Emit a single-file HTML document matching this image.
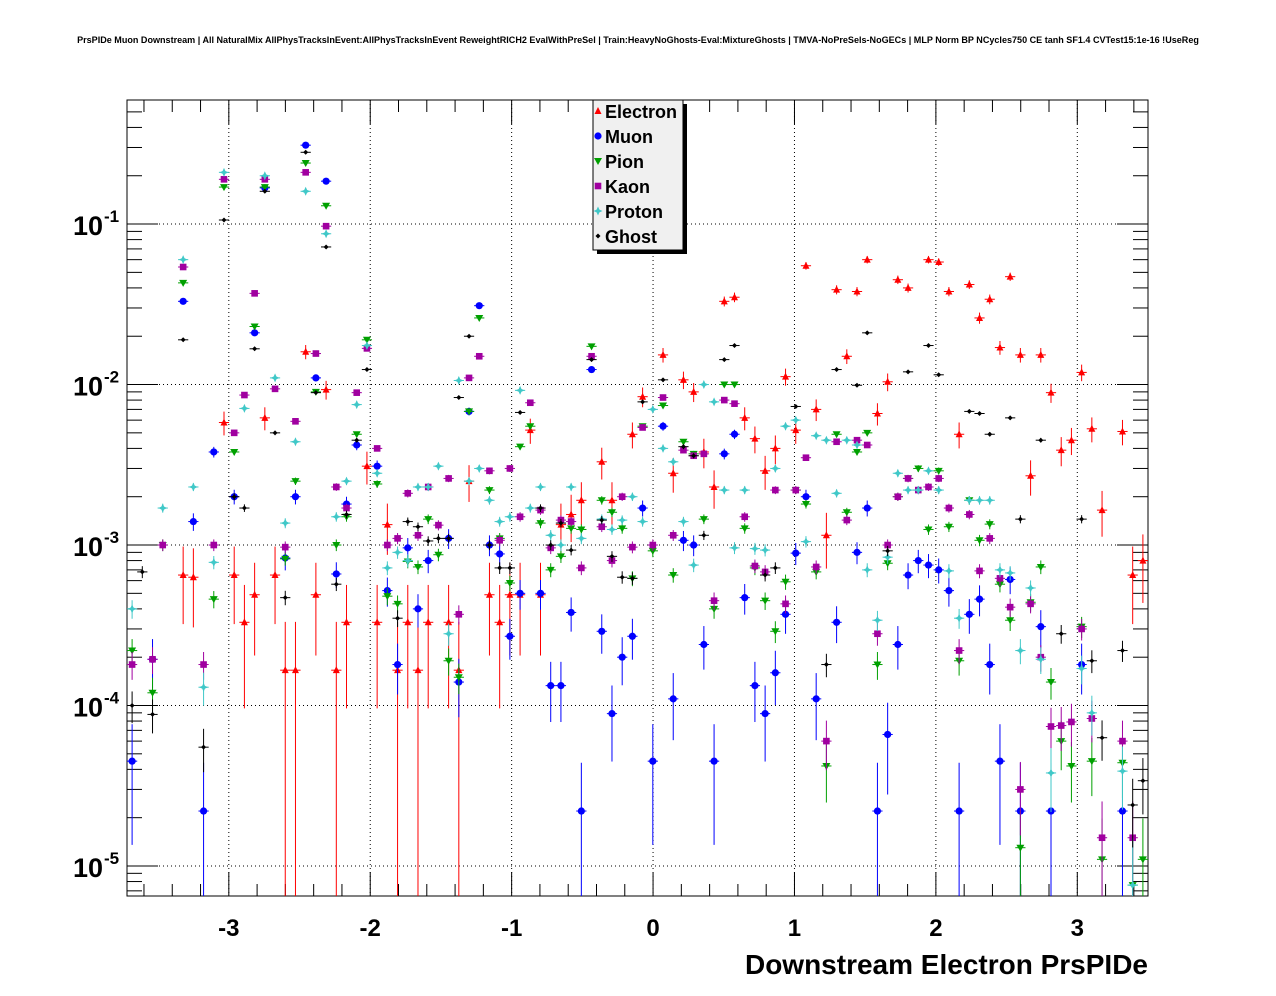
<!DOCTYPE html>
<html><head><meta charset="utf-8">
<style>
html,body{margin:0;padding:0;background:#fff;}
svg{display:block;font-family:"Liberation Sans",sans-serif;}
</style></head>
<body>
<svg id="chart" width="1276" height="996" viewBox="0 0 1276 996" xmlns="http://www.w3.org/2000/svg">
<rect x="0" y="0" width="1276" height="996" fill="#fff"/>
<text x="638" y="43" font-size="9.05" font-weight="bold" text-anchor="middle">PrsPIDe Muon Downstream | All NaturalMix AllPhysTracksInEvent:AllPhysTracksInEvent ReweightRICH2 EvalWithPreSel | Train:HeavyNoGhosts-Eval:MixtureGhosts | TMVA-NoPreSels-NoGECs | MLP Norm BP NCycles750 CE tanh SF1.4 CVTest15:1e-16 !UseReg</text>
<rect x="127" y="100" width="1021" height="796" fill="#fff" stroke="#000" stroke-width="1"/>
<g id="grid"></g><g id="ticks"></g><g id="marks"></g>
<text x="1148" y="974" font-size="28" font-weight="bold" text-anchor="end">Downstream Electron PrsPIDe</text>
<g id="legend"></g>
</svg>
<script>
// ---- data ----
const xMin = -3.72, xMax = 3.50, nBins = 100;
const yLogMin = -5.187, yLogMax = -0.227;
const xTickLabels = [-3, -2, -1, 0, 1, 2, 3];
const yTickExps = [-1, -2, -3, -4, -5];
const seriesNames = ["Electron", "Muon", "Pion", "Kaon", "Proton", "Ghost"];

const electronBins = [5,6,9,10,11,12,13,14,15,16,17,18,19,20,21,23,24,25,26,27,28,29,31,32,33,35,36,37,38,39,40,42,43,44,46,47,49,50,52,53,54,55,56,57,58,59,60,61,62,63,64,65,66,67,68,69,70,71,72,73,74,75,76,78,79,80,81,82,83,84,85,86,87,88,89,90,91,92,93,94,95,97,98,99];
const electronVals = [6.5e-4,6.3e-4,5.8e-3,6.5e-4,3.3e-4,4.9e-4,6.2e-3,6.5e-4,1.66e-4,1.66e-4,1.6e-2,4.9e-4,9.3e-3,1.66e-4,3.3e-4,3.1e-3,3.3e-4,1.34e-3,1.66e-4,3.3e-4,1.66e-4,3.3e-4,3.3e-4,1.66e-4,2.5e-3,4.9e-4,3.3e-4,4.9e-4,4.9e-4,5.2e-3,4.9e-4,1.34e-3,1.55e-3,1.9e-3,3.3e-3,1.9e-3,4.9e-3,8.4e-3,1.53e-2,2.8e-3,1.07e-2,9e-3,3.8e-3,2.3e-3,3.3e-2,3.5e-2,6.2e-3,4.6e-3,2.9e-3,4e-3,1.12e-2,5.2e-3,5.5e-2,7e-3,1.15e-3,3.9e-2,1.5e-2,3.8e-2,6e-2,6.6e-3,1.04e-2,4.5e-2,4e-2,6e-2,5.8e-2,3.8e-2,4.9e-3,4.2e-2,2.6e-2,3.4e-2,1.7e-2,4.7e-2,1.53e-2,2.7e-3,1.53e-2,8.9e-3,3.9e-3,4.5e-3,1.19e-2,5.3e-3,1.65e-3,5.1e-3,6.5e-4,8e-4];

const muonBins = [0,2,5,6,7,8,10,12,13,15,16,17,18,19,20,21,22,24,25,26,27,28,29,31,32,33,34,35,36,37,38,40,41,42,43,44,45,46,47,48,49,50,51,52,53,54,55,56,57,58,59,60,61,62,63,64,65,66,67,69,71,72,73,74,75,76,77,78,79,80,81,82,83,84,85,86,87,89,90,93,97];
const muonVals = [4.5e-5,1.94e-4,3.3e-2,1.4e-3,2.2e-5,3.8e-3,2e-3,2.1e-2,0.168,8.3e-4,2e-3,0.31,1.1e-2,0.185,6.6e-4,1.8e-3,4.2e-3,3.1e-3,5.2e-4,1.8e-4,9.6e-4,4e-4,8e-4,1.1e-3,1.4e-4,6.8e-3,3.1e-2,1e-3,8.8e-4,2.7e-4,5e-4,5e-4,1.33e-4,1.33e-4,3.8e-4,2.2e-5,1.24e-2,2.9e-4,8.9e-5,2e-4,2.7e-4,1.7e-3,4.5e-5,5.5e-3,1.1e-4,1.07e-3,1e-3,2.4e-4,4.5e-5,3.7e-3,4.9e-3,4.7e-4,1.33e-4,8.9e-5,1.6e-4,3.7e-4,8.9e-4,2e-3,1.1e-4,3.3e-4,9e-4,1.7e-3,2.2e-5,6.6e-5,2.4e-4,6.5e-4,8e-4,7.5e-4,7e-4,5.2e-4,2.2e-5,3.7e-4,4.6e-4,1.8e-4,4.5e-5,6.1e-4,2.2e-5,3.1e-4,2.2e-5,1.8e-4,2.2e-5];

const pionBins = [0,2,3,5,8,9,10,12,13,15,16,17,18,19,20,21,22,23,24,25,26,27,28,29,30,31,32,33,34,35,36,37,38,39,40,41,42,43,44,45,46,47,48,49,50,51,52,53,54,55,56,57,58,59,60,61,62,63,64,65,66,67,68,69,70,71,72,73,74,75,76,77,78,79,80,81,82,83,84,85,86,87,88,89,90,91,92,93,94,95,97,98,99];
const pionVals = [2.2e-4,1.2e-4,1e-3,4.3e-2,4.6e-4,0.17,3.8e-3,2.3e-2,0.17,8.2e-4,2.5e-3,0.24,9e-3,0.13,1e-3,1.5e-3,4.9e-3,1.9e-2,2.4e-3,4.8e-4,4.3e-4,7.9e-4,7.3e-4,1.45e-3,8.7e-4,1.9e-4,1.5e-4,6.8e-3,2.6e-2,2.2e-3,1.1e-3,5.8e-4,4.1e-3,5.5e-3,1.37e-3,7e-4,8.5e-4,1.27e-3,1.25e-3,1.73e-2,1.9e-3,1.6e-3,1.27e-3,6.2e-4,5.5e-3,9.2e-4,7.4e-3,6.5e-4,4.4e-3,3.7e-3,1.45e-3,4e-4,1e-2,1e-2,1.27e-3,7.2e-4,4.5e-4,2.9e-4,5.9e-4,2.2e-3,1.8e-3,6.8e-4,4.2e-5,4.9e-3,1.6e-3,3.8e-3,5e-3,1.8e-4,7.7e-4,2e-3,2.6e-3,3e-3,1.25e-3,2.9e-3,1.3e-3,1.9e-4,1.9e-3,1.07e-3,1.35e-3,5.7e-4,3.4e-4,1.3e-5,4.4e-4,7.3e-4,1.4e-4,6e-5,4.2e-5,3.1e-4,4.5e-5,1.1e-5,4.4e-5,7.6e-6,1.1e-5];

const kaonBins = [0,2,3,5,7,8,9,10,11,12,13,14,15,16,17,18,19,20,21,22,23,24,25,26,27,28,29,30,31,32,33,34,35,36,37,38,39,40,41,42,43,44,45,46,47,48,49,50,51,52,53,54,55,56,57,58,59,60,61,62,63,64,65,66,67,68,69,70,71,72,73,74,75,76,77,78,79,80,81,82,83,84,85,86,87,88,89,90,91,92,93,94,95,97,98];
const kaonVals = [1.8e-4,1.94e-4,1e-3,5.4e-2,1.8e-4,1e-3,0.19,5e-3,8.6e-3,3.7e-2,0.19,9.4e-3,9.7e-4,5.9e-3,0.21,1.56e-2,9.7e-2,2.3e-3,1.7e-3,8.9e-3,1.68e-2,4e-3,1e-3,1.1e-3,2.1e-3,1.15e-3,2.3e-3,1.33e-3,2.6e-3,3.7e-4,1.1e-2,1.5e-2,2.9e-3,1.07e-3,3e-3,1.5e-3,7.7e-3,1.65e-3,9.6e-4,1.43e-3,1.4e-3,7.2e-4,1.5e-2,1.3e-3,8e-4,2e-3,9.7e-4,5.4e-3,1e-3,8.3e-3,1.15e-3,3.9e-3,3.6e-3,3.7e-3,4.5e-4,8e-3,7.6e-3,1.5e-3,7.4e-4,6.8e-4,2.2e-3,4.3e-4,2.2e-3,3.5e-3,7.3e-4,6e-5,4.4e-3,1.43e-3,4.5e-3,4.2e-3,2.8e-4,1e-3,2e-3,2.6e-3,2.2e-3,2.3e-3,2.6e-3,1.7e-3,2.2e-4,1.55e-3,6.9e-4,1.1e-3,6.2e-4,4.1e-4,3e-5,4.3e-4,2e-4,7.4e-5,7.5e-5,7.9e-5,3e-4,8.3e-5,1.5e-5,6e-5,1.5e-5];

const protonBins = [0,3,5,6,7,8,9,11,13,14,15,16,17,19,20,21,22,23,24,25,26,27,28,29,30,31,32,33,34,35,36,37,38,39,40,41,42,43,44,46,47,48,49,50,51,52,53,54,55,56,57,58,59,60,61,62,63,64,65,66,67,68,69,70,71,72,73,74,75,76,77,78,79,80,81,82,83,84,85,86,87,88,89,90,93,94,97,98];
const protonVals = [4e-4,1.7e-3,6e-2,2.3e-3,1.3e-4,7.8e-4,0.21,7.1e-3,0.2,1.1e-2,1.37e-3,4.4e-3,0.16,8.7e-2,1.5e-3,2.5e-3,7.5e-3,1.75e-2,2.8e-3,7.2e-4,9e-4,8e-4,2.3e-3,2.3e-3,3.1e-3,2.8e-4,1.06e-2,2.5e-3,3e-3,1.9e-3,1.4e-3,1.5e-3,9.2e-3,1.7e-3,2.3e-3,1.15e-3,1e-3,2.3e-3,1.1e-3,1.45e-3,1.25e-3,1.43e-3,2e-3,1.4e-3,7e-3,4e-3,3.3e-3,1.4e-3,7.5e-4,1e-2,7.8e-3,2.2e-3,9.6e-4,2.2e-3,9.5e-4,9.3e-4,3e-3,5.5e-3,6e-3,1.05e-3,4.8e-3,4.5e-3,2.1e-3,4.5e-3,4.2e-3,7e-4,3.4e-4,8.4e-4,2.8e-3,2.2e-3,2.2e-3,2.9e-3,2.2e-3,6.9e-4,3.5e-4,1.9e-3,1.9e-3,1.9e-3,7e-4,6.7e-4,2.2e-4,5.4e-4,1.94e-4,3.8e-5,1.7e-4,9e-5,3.9e-5,7.6e-6];

const ghostBins = [0,1,2,5,7,9,10,11,12,13,14,15,17,18,19,20,21,22,23,26,27,28,29,30,31,32,33,35,36,37,38,40,41,42,43,45,46,47,48,49,50,52,54,55,56,58,59,62,63,65,68,69,71,72,74,76,78,79,82,83,84,86,87,89,91,93,94,95,97,98,99];
const ghostVals = [1e-4,6.8e-4,8.8e-5,1.9e-2,5.5e-5,0.106,2e-3,1.7e-3,1.67e-2,0.16,5e-3,4.7e-4,0.28,8.9e-3,7.2e-2,5.7e-4,1.55e-3,4.5e-3,1.24e-2,3.5e-4,1.4e-3,1.3e-3,1.06e-3,1.1e-3,1.1e-3,8.3e-3,2e-2,1e-3,7.2e-4,7.2e-4,6.7e-3,1.7e-3,1e-3,1.37e-3,9.3e-4,1.43e-2,1.43e-3,8.5e-4,6.3e-4,6.2e-4,7.8e-3,1.07e-2,4.1e-3,3.6e-3,1.15e-3,1.43e-2,1.75e-2,6.5e-4,7.2e-4,7.3e-3,1.8e-4,1.24e-2,9.9e-3,2.1e-2,9.2e-4,1.2e-2,1.75e-2,1.15e-2,6.8e-3,6.6e-3,4.9e-3,6.2e-3,1.45e-3,4.5e-3,2.8e-4,1.45e-3,1.9e-4,6.3e-5,2.2e-4,2.4e-5,3.4e-5];

// ---- drawing ----
const NS = "http://www.w3.org/2000/svg";
const L = 127, R = 1148, T = 100, B = 896;
const xs = v => L + (v - xMin) / (xMax - xMin) * (R - L);
const ys = v => T + (yLogMax - Math.log10(v)) / (yLogMax - yLogMin) * (B - T);
const binW = (xMax - xMin) / nBins;
const binCenter = i => xMin + binW * (i + 0.5);
function mk(tag, attrs, parent) {
  const e = document.createElementNS(NS, tag);
  for (const k in attrs) e.setAttribute(k, attrs[k]);
  parent.appendChild(e); return e;
}
const grid = document.getElementById('grid');
const ticks = document.getElementById('ticks');
const marks = document.getElementById('marks');
const legend = document.getElementById('legend');

// grid + x ticks
xTickLabels.forEach(v => {
  const x = xs(v);
  const g = mk('line', {x1:x, x2:x, y1:T, y2:B, stroke:'#000', 'stroke-width':1, 'stroke-dasharray':'1,3'}, grid);
  
  
  mk('line', {x1:x, x2:x, y1:B, y2:B-24, stroke:'#000'}, ticks);
  mk('line', {x1:x, x2:x, y1:T, y2:T+24, stroke:'#000'}, ticks);
  const t = mk('text', {x:x, y:936, 'font-size':24, 'font-weight':'bold', 'text-anchor':'middle'}, ticks);
  t.textContent = String(v);
  
  
});
for (let k = -18; k <= 17; k++) {
  const r = k * 0.2;
  if (r < xMin || r > xMax) continue;
  if (Math.abs(r - Math.round(r)) < 1e-6) continue;
  const x = xs(r);
  mk('line', {x1:x, x2:x, y1:B, y2:B-12, stroke:'#000'}, ticks);
  mk('line', {x1:x, x2:x, y1:T, y2:T+12, stroke:'#000'}, ticks);
}
// y grid + ticks
yTickExps.forEach(e => {
  const y = ys(Math.pow(10, e));
  const g = mk('line', {x1:L, x2:R, y1:y, y2:y, stroke:'#000', 'stroke-width':1, 'stroke-dasharray':'1,3'}, grid);
  
  
  mk('line', {x1:L, x2:L+31, y1:y, y2:y, stroke:'#000'}, ticks);
  mk('line', {x1:R, x2:R-31, y1:y, y2:y, stroke:'#000'}, ticks);
  const t = mk('text', {x:103, y:y+11, 'font-size':27, 'font-weight':'bold', 'text-anchor':'end'}, ticks);
  t.textContent = '10';
  
  
  const s = mk('text', {x:104, y:y-2, 'font-size':17, 'font-weight':'bold', 'text-anchor':'start'}, ticks);
  s.textContent = String(e);
  for (let m = 2; m <= 9; m++) {
    const v = Math.pow(10, e - 1) * m;
    if (Math.log10(v) < yLogMin) continue;
    const yy = ys(v);
    mk('line', {x1:L, x2:L+15, y1:yy, y2:yy, stroke:'#000'}, ticks);
    mk('line', {x1:R, x2:R-15, y1:yy, y2:yy, stroke:'#000'}, ticks);
  }
});
[2,3,4,5].forEach(m => {
  const v = m * 0.1;
  if (Math.log10(v) > yLogMax) return;
  const yy = ys(v);
  mk('line', {x1:L, x2:L+15, y1:yy, y2:yy, stroke:'#000'}, ticks);
  mk('line', {x1:R, x2:R-15, y1:yy, y2:yy, stroke:'#000'}, ticks);
});

const series = [
  {name:'electron', bins:electronBins, vals:electronVals, color:'#ff0000', shape:'tri', unit:1.66e-4},
  {name:'muon', bins:muonBins, vals:muonVals, color:'#0000ff', shape:'circle', unit:2.2e-5},
  {name:'pion', bins:pionBins, vals:pionVals, color:'#00a000', shape:'dtri', unit:7e-6},
  {name:'kaon', bins:kaonBins, vals:kaonVals, color:'#a000a0', shape:'square', unit:7e-6},
  {name:'proton', bins:protonBins, vals:protonVals, color:'#40c8c8', shape:'star', unit:7e-6},
  {name:'ghost', bins:ghostBins, vals:ghostVals, color:'#000000', shape:'diamond', unit:5e-6}
];
function marker(shape, x, y, color, parent) {
  let e;
  if (shape === 'tri') e = mk('polygon', {points:`${x},${y-4} ${x-3.5},${y+3} ${x+3.5},${y+3}`, fill:color}, parent);
  else if (shape === 'dtri') e = mk('polygon', {points:`${x},${y+4} ${x-4},${y-3} ${x+4},${y-3}`, fill:color}, parent);
  else if (shape === 'circle') e = mk('circle', {cx:x, cy:y, r:3.6, fill:color}, parent);
  else if (shape === 'square') e = mk('rect', {x:x-3.3, y:y-3.3, width:6.6, height:6.6, fill:color}, parent);
  else if (shape === 'star') e = mk('polygon', {points:`${x},${y-4.5} ${x+1.4},${y-1.4} ${x+4.5},${y} ${x+1.4},${y+1.4} ${x},${y+4.5} ${x-1.4},${y+1.4} ${x-4.5},${y} ${x-1.4},${y-1.4}`, fill:color}, parent);
  else e = mk('polygon', {points:`${x},${y-2.5} ${x+2.5},${y} ${x},${y+2.5} ${x-2.5},${y}`, fill:color}, parent);
  return e;
}
series.forEach(s => {
  const g = mk('g', {}, marks);
  
  
  s.bins.forEach((b, k) => {
    const v = s.vals[k];
    const cx = xs(binCenter(b)), cy = ys(v);
    const rel = Math.sqrt(s.unit / v);
    const lo = v * (1 - rel), hi = v * (1 + rel);
    const yLo = lo <= Math.pow(10, yLogMin) ? B : Math.min(B, ys(lo));
    const yHi = Math.max(T, ys(hi));
    mk('line', {x1:cx, x2:cx, y1:yLo, y2:yHi, stroke:s.color, 'stroke-width':1}, g);
    mk('line', {x1:xs(binCenter(b) - binW/2), x2:xs(binCenter(b) + binW/2), y1:cy, y2:cy, stroke:s.color, 'stroke-width':1}, g);
    const m = marker(s.shape, cx, cy, s.color, g);
    
    
  });
});

// legend
const lg = mk('g', {}, legend);


mk('rect', {x:597, y:104, width:90, height:150, fill:'#000'}, lg);
mk('rect', {x:593, y:100, width:90, height:150, fill:'#f0f0f0', stroke:'#000', 'stroke-width':1}, lg);
series.forEach((s, k) => {
  const y = 111 + k * 25;
  const e = mk('g', {}, lg);
  
  
  marker(s.shape, 598, y, s.color, e);
  const t = mk('text', {x:605, y:y+7, 'font-size':18, 'font-weight':'bold'}, e);
  t.textContent = seriesNames[k];
});
</script>
</body></html>
